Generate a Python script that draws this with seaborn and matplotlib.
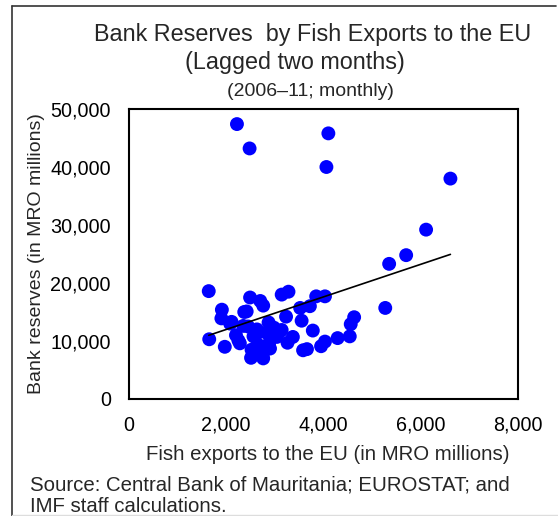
import numpy as np
import pandas as pd
import seaborn as sns
import matplotlib.pyplot as plt
from matplotlib.lines import Line2D
from matplotlib.ticker import FuncFormatter

# Monthly observations, 2006-11: fish exports to the EU (lagged two months)
# and bank reserves, both in MRO millions.
fish_exports = [
    2220, 2480, 4100, 4060, 6610, 6110, 5700, 5350, 5270,
    1640, 1650, 1970, 1910, 1900, 2110, 2250, 2370, 2490, 2700,
    2760, 2520, 2510, 2750, 2870, 2870, 2830, 2630, 2560, 3110,
    3260, 3370, 3230, 3140, 3280, 3550, 3520, 3720, 3660, 3780,
    3850, 4030, 3950, 4030, 4290, 4540, 4560, 4630, 3580, 2080,
    2280, 2420, 2760, 2900, 3040, 3140, 2620, 2900, 2650, 2880,
    2450, 2200, 2350, 2980,
]
bank_reserves = [
    47400, 43200, 45800, 40000, 38000, 29200, 24800, 23300, 15700,
    18600, 10300, 9000, 15400, 13900, 13300, 10100, 15000, 17500, 16900,
    16100, 8500, 7100, 7600, 9100, 13200, 11400, 12000, 10800, 11700,
    9700, 10700, 14200, 18000, 18500, 13500, 15700, 16000, 8600, 11800,
    17700, 17700, 9100, 9900, 10500, 10800, 12900, 14100, 8400, 13000,
    9600, 15100, 7000, 8700, 10700, 11900, 11200, 11300, 9400, 9600,
    12500, 11000, 12600, 12300,
]

x_ticks = [0, 2000, 4000, 6000, 8000]
y_ticks = [0, 10000, 20000, 30000, 40000, 50000]

df = pd.DataFrame({"fish": fish_exports, "reserves": bank_reserves})

sns.set_style("white")
plt.rcParams["font.family"] = ["Liberation Sans", "DejaVu Sans"]

W, H = 558, 516
fig = plt.figure(figsize=(W / 100, H / 100), dpi=100)
ax = fig.add_axes([129 / W, 1 - 399 / H, (518 - 129) / W, (399 - 109) / H])

sns.regplot(
    data=df, x="fish", y="reserves", ax=ax, ci=None, truncate=True,
    scatter_kws=dict(s=100, color="#0000FF", edgecolor="none", alpha=1, zorder=2),
    line_kws=dict(color="black", lw=1.2, zorder=3),
)

ax.set_xlim(0, 8000)
ax.set_ylim(0, 50000)
ax.set_xticks(x_ticks)
ax.set_yticks(y_ticks)
fmt = FuncFormatter(lambda v, p: f"{int(v):,}")
ax.xaxis.set_major_formatter(fmt)
ax.yaxis.set_major_formatter(fmt)
ax.tick_params(axis="both", direction="in", length=5, width=1.2,
               labelsize=14.2, colors="black")
ax.tick_params(axis="y", pad=13)
ax.tick_params(axis="x", pad=12)
for s in ax.spines.values():
    s.set_visible(True)
    s.set_color("black")
    s.set_linewidth(1.5)

ax.set_xlabel("")
ax.set_ylabel("Bank reserves (in MRO millions)", fontsize=14, labelpad=4)

fig.text(328 / W, 1 - 455 / H, "Fish exports to the EU (in MRO millions)",
         ha="center", va="center", fontsize=14.7)

fig.text(313 / W, 1 - 35 / H, "Bank Reserves  by Fish Exports to the EU",
         ha="center", va="center", fontsize=16.8)
fig.text(295 / W, 1 - 63 / H, "(Lagged two months)", ha="center", va="center",
         fontsize=16.8)
fig.text(310 / W, 1 - 91 / H, "(2006\u201311; monthly)", ha="center", va="center",
         fontsize=14)

fig.text(30 / W, 1 - 485 / H, "Source: Central Bank of Mauritania; EUROSTAT; and",
         ha="left", va="center", fontsize=14.7)
fig.text(30 / W, 1 - 507 / H, "IMF staff calculations.", ha="left", va="center",
         fontsize=14.7)

# outer frame
fig.add_artist(Line2D([12 / W, 556 / W], [1 - 6 / H, 1 - 6 / H],
                      transform=fig.transFigure, color="#333333", lw=1.2))
fig.add_artist(Line2D([12 / W, 12 / W], [0, 1 - 6 / H],
                      transform=fig.transFigure, color="#333333", lw=1.2))
fig.add_artist(Line2D([12 / W, 1], [1 / H, 1 / H],
                      transform=fig.transFigure, color="#DDDDDD", lw=1))

fig.savefig("out.png", dpi=100)
